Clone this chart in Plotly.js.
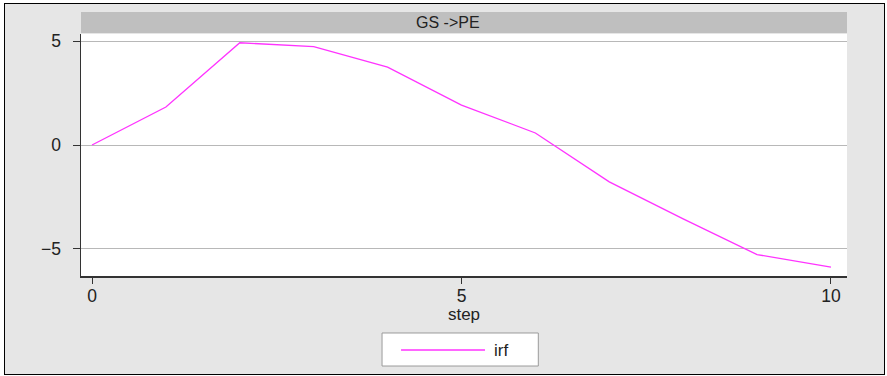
<!DOCTYPE html>
<html>
<head>
<meta charset="utf-8">
<script src="https://cdn.plot.ly/plotly-3.0.1.min.js"></script>
<style>
html,body{margin:0;padding:0;background:#ffffff;}
#frame{position:absolute;left:4px;top:3px;width:879px;height:370px;border:1px solid #000;background:#e6e6e6;}
#chart{width:879px;height:370px;}
</style>
</head>
<body>
<div id="frame"><div id="chart"></div></div>
<script>
// Data
const steps = [0, 1, 2, 3, 4, 5, 6, 7, 8, 9, 10];
const irf = [0, 1.83, 4.92, 4.73, 3.75, 1.92, 0.58, -1.77, -3.55, -5.27, -5.87];
const panelTitle = "GS ->PE";
const seriesName = "irf";
const xTicks = [0, 5, 10];
const yTicks = [-5, 0, 5];

const fontFam = "Liberation Sans, Arial, sans-serif";
const txt = "#222222";

const trace = {
  x: steps, y: irf, type: "scatter", mode: "lines", name: seriesName,
  line: {color: "#ff33ff", width: 1.3}, showlegend: false, hoverinfo: "x+y"
};

const layout = {
  width: 879, height: 370,
  margin: {l: 76, r: 37, t: 30, b: 98},
  paper_bgcolor: "#e6e6e6", plot_bgcolor: "#ffffff",
  font: {family: fontFam, size: 17, color: txt},
  showlegend: false,
  xaxis: {
    range: [-0.149, 10.217], tickvals: xTicks, ticktext: xTicks.map(String),
    showgrid: false, zeroline: false, showline: true, linecolor: "#333333", linewidth: 1.5,
    ticks: "outside", ticklen: 6, tickcolor: "#333333", tickwidth: 1,
    tickfont: {size: 17.5, color: txt}, ticklabelstandoff: -3,
    title: {text: "step", font: {size: 17, color: txt}, standoff: 0}
  },
  yaxis: {
    range: [-6.30, 5.34], tickvals: yTicks, ticktext: ["\u22125", "0", "5"],
    showgrid: true, gridcolor: "#b8b8b8", gridwidth: 1, zeroline: false,
    showline: true, linecolor: "#333333", linewidth: 1.5,
    ticks: "outside", ticklen: 7, tickcolor: "#333333", tickwidth: 1,
    tickfont: {size: 17.5, color: txt}, ticklabelstandoff: 8
  },
  shapes: [
    {type: "rect", xref: "paper", yref: "paper", x0: 0, x1: 1, y0: 1.004, y1: 1.091,
     fillcolor: "#bfbfbf", line: {width: 0}, layer: "below"},
    {type: "rect", xref: "paper", yref: "paper", x0: 0.393, x1: 0.597, y0: -0.372, y1: -0.2355,
     fillcolor: "#ffffff", line: {color: "#9a9a9a", width: 1}},
    {type: "line", xref: "paper", yref: "paper", x0: 0.4178, x1: 0.5274, y0: -0.3058, y1: -0.3058,
     line: {color: "#ff33ff", width: 1.3}}
  ],
  annotations: [
    {text: panelTitle, xref: "paper", yref: "paper", x: 0.479, y: 1.047, xanchor: "center", yanchor: "middle",
     showarrow: false, font: {size: 16, color: txt}},
    {text: seriesName, xref: "paper", yref: "paper", x: 0.5366, y: -0.3058, xanchor: "left", yanchor: "middle",
     showarrow: false, font: {size: 17, color: txt}}
  ]
};

Plotly.newPlot("chart", [trace], layout, {displayModeBar: false, staticPlot: true});
</script>
</body>
</html>
